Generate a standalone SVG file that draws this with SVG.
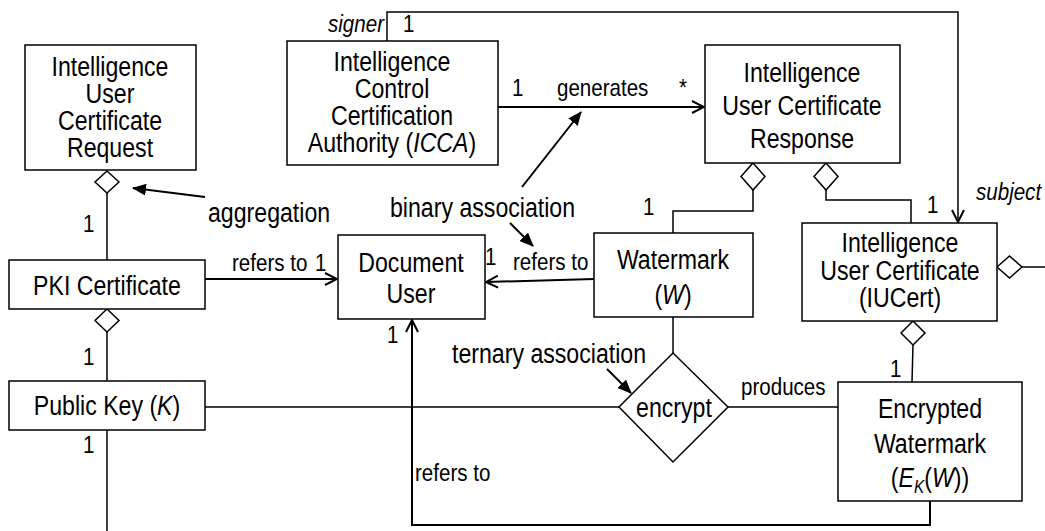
<svg xmlns="http://www.w3.org/2000/svg" width="1045" height="531" viewBox="0 0 1045 531">
<defs>
<style>
text{font-family:"Liberation Sans",Arial,sans-serif;fill:#000}
.b{font-size:27px;text-anchor:middle}
.a{font-size:27px}
.s{font-size:24px}
.i{font-style:italic}
.box{fill:#fff;stroke:#000;stroke-width:1.5}
.ln{fill:none;stroke:#000;stroke-width:1.5}
.th{fill:none;stroke:#000;stroke-width:2}
.dm{fill:#fff;stroke:#000;stroke-width:1.5}
</style>
<marker id="open" viewBox="0 0 14 14" refX="13" refY="7" markerWidth="14" markerHeight="14" markerUnits="userSpaceOnUse" orient="auto">
<path d="M1,1 L13,7 L1,13" fill="none" stroke="#000" stroke-width="2"/>
</marker>
<marker id="fill" viewBox="0 0 14 12" refX="13" refY="6" markerWidth="14" markerHeight="12" markerUnits="userSpaceOnUse" orient="auto">
<path d="M0,0 L14,6 L0,12 Z" fill="#000"/>
</marker>
</defs>
<g id="connectors">
<line class="ln" x1="107" y1="193" x2="107" y2="260"/>
<line class="ln" x1="107" y1="332" x2="107" y2="381"/>
<line class="ln" x1="107" y1="430" x2="107" y2="531"/>
<line class="ln" x1="205" y1="407" x2="619" y2="407"/>
<line class="ln" x1="728" y1="407" x2="838" y2="407"/>
<line class="ln" x1="673" y1="317" x2="673" y2="353"/>
<polyline class="ln" points="753,190 753,211 673,211 673,233"/>
<polyline class="ln" points="826,190 826,200 911,200 911,223"/>
<line class="ln" x1="913" y1="345" x2="912" y2="382"/>
<line class="ln" x1="1022" y1="267" x2="1045" y2="267"/>
<line class="th" x1="205" y1="279" x2="337" y2="279" marker-end="url(#open)"/>
<line class="th" x1="498" y1="107" x2="704" y2="107" marker-end="url(#open)"/>
<line class="th" x1="594" y1="279" x2="486" y2="282" marker-end="url(#open)"/>
<polyline class="ln" points="387,41 387,12 958,12 958,222" marker-end="url(#open)"/>
<polyline class="th" points="930,501 930,525 412,525 412,320" marker-end="url(#open)"/>
<line class="th" x1="205" y1="197" x2="133" y2="188" marker-end="url(#fill)"/>
<line class="th" x1="510" y1="223" x2="533" y2="246" marker-end="url(#fill)"/>
<line class="th" x1="522" y1="187" x2="581" y2="112" marker-end="url(#fill)"/>
<line class="th" x1="607" y1="369" x2="631" y2="393" marker-end="url(#fill)"/>
<polygon class="dm" points="107,171 119,182 107,193 95,182"/>
<polygon class="dm" points="107,309 119,320.5 107,332 95,320.5"/>
<polygon class="dm" points="753,163 765,176.5 753,190 741,176.5"/>
<polygon class="dm" points="826,163 838,176.5 826,190 814,176.5"/>
<polygon class="dm" points="913,321 925,333 913,345 901,333"/>
<polygon class="dm" points="997,267 1009.5,256 1022,267 1009.5,278"/>
<text class="s i" text-anchor="end" transform="translate(384 32) scale(.857 1)">signer</text>
<text class="s" transform="translate(403 32) scale(.857 1)">1</text>
<text class="s" transform="translate(512 96) scale(.857 1)">1</text>
<text class="s" transform="translate(557 96) scale(.857 1)">generates</text>
<text class="s" transform="translate(679 96) scale(.857 1)">*</text>
<text class="s" transform="translate(232 271) scale(.857 1)">refers to</text>
<text class="s" transform="translate(315 271) scale(.857 1)">1</text>
<text class="s" transform="translate(485 265) scale(.857 1)">1</text>
<text class="s" transform="translate(513 270) scale(.857 1)">refers to</text>
<text class="s" transform="translate(387 343) scale(.857 1)">1</text>
<text class="s" transform="translate(415 481) scale(.857 1)">refers to</text>
<text class="s" transform="translate(741 395) scale(.857 1)">produces</text>
<text class="s" transform="translate(643 215) scale(.857 1)">1</text>
<text class="s" transform="translate(927 213) scale(.857 1)">1</text>
<text class="s i" transform="translate(976 200) scale(.857 1)">subject</text>
<text class="s" transform="translate(890 377) scale(.857 1)">1</text>
<text class="s" transform="translate(83 232) scale(.857 1)">1</text>
<text class="s" transform="translate(83 365) scale(.857 1)">1</text>
<text class="s" transform="translate(83 453) scale(.857 1)">1</text>
<text class="a" transform="translate(208 222) scale(.857 1)">aggregation</text>
<text class="a" transform="translate(390 217) scale(.857 1)">binary association</text>
<text class="a" transform="translate(452 363) scale(.857 1)">ternary association</text>
</g>
<g id="request">
<rect class="box" x="25" y="45" width="171" height="125"/>
<text class="b" transform="translate(110 76) scale(.857 1)">Intelligence</text>
<text class="b" transform="translate(110 103) scale(.857 1)">User</text>
<text class="b" transform="translate(110 130) scale(.857 1)">Certificate</text>
<text class="b" transform="translate(110 157) scale(.857 1)">Request</text>
</g>
<g id="icca">
<rect class="box" x="287" y="41" width="211" height="124"/>
<text class="b" transform="translate(392 71) scale(.857 1)">Intelligence</text>
<text class="b" transform="translate(392 98) scale(.857 1)">Control</text>
<text class="b" transform="translate(392 125) scale(.857 1)">Certification</text>
<text class="b" transform="translate(392 152) scale(.857 1)">Authority (<tspan class="i">ICCA</tspan>)</text>
</g>
<g id="response">
<rect class="box" x="705" y="45" width="195" height="118"/>
<text class="b" transform="translate(802 82) scale(.857 1)">Intelligence</text>
<text class="b" transform="translate(802 115) scale(.857 1)">User Certificate</text>
<text class="b" transform="translate(802 148) scale(.857 1)">Response</text>
</g>
<g id="pki">
<rect class="box" x="9" y="260" width="196" height="49"/>
<text class="b" transform="translate(107 295) scale(.857 1)">PKI Certificate</text>
</g>
<g id="publickey">
<rect class="box" x="9" y="381" width="196" height="49"/>
<text class="b" transform="translate(107 415) scale(.857 1)">Public Key (<tspan class="i">K</tspan>)</text>
</g>
<g id="docuser">
<rect class="box" x="338" y="235" width="147" height="84"/>
<text class="b" transform="translate(411 272) scale(.857 1)">Document</text>
<text class="b" transform="translate(411 303) scale(.857 1)">User</text>
</g>
<g id="watermark">
<rect class="box" x="594" y="233" width="159" height="84"/>
<text class="b" transform="translate(673 269) scale(.857 1)">Watermark</text>
<text class="b" transform="translate(673 304) scale(.857 1)">(<tspan class="i">W</tspan>)</text>
</g>
<g id="iucert">
<rect class="box" x="802" y="223" width="195" height="98"/>
<text class="b" transform="translate(900 252) scale(.857 1)">Intelligence</text>
<text class="b" transform="translate(900 280) scale(.857 1)">User Certificate</text>
<text class="b" transform="translate(900 307) scale(.857 1)">(IUCert)</text>
</g>
<g id="encrypt">
<polygon class="dm" points="673,353 728,407 673,462 619,407"/>
<text class="b" transform="translate(674 417) scale(.857 1)">encrypt</text>
</g>
<g id="encwm">
<rect class="box" x="838" y="382" width="184" height="119"/>
<text class="b" transform="translate(930 418) scale(.857 1)">Encrypted</text>
<text class="b" transform="translate(930 453) scale(.857 1)">Watermark</text>
<text class="b" transform="translate(930 487) scale(.857 1)">(<tspan class="i">E</tspan><tspan class="i" font-size="18" dy="6">K</tspan><tspan dy="-6">(</tspan><tspan class="i">W</tspan>))</text>
</g>
</svg>
